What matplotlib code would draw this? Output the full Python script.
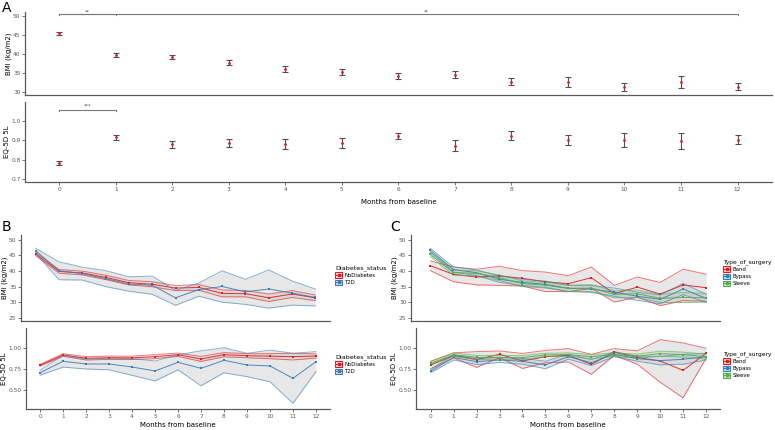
import numpy as np
import matplotlib
matplotlib.use("Agg")
import matplotlib.pyplot as plt
from matplotlib.lines import Line2D
from matplotlib.patches import Patch

# ---------------------------------------------------------------------------
# Datos
meses = np.arange(13)

# Panel A: media y error de toda la muestra
bmi_media = [45.45, 39.8, 39.2, 37.8, 36.1, 35.35, 34.2, 34.65, 32.75, 32.65, 31.35, 32.65, 31.5]
bmi_err = [0.35, 0.48, 0.56, 0.74, 0.7, 0.78, 0.78, 1.0, 0.87, 1.26, 1.13, 1.52, 0.96]
eq_media = [0.781, 0.915, 0.880, 0.887, 0.880, 0.887, 0.922, 0.873, 0.924, 0.903, 0.903, 0.897, 0.903]
eq_err = [0.010, 0.013, 0.017, 0.019, 0.026, 0.024, 0.016, 0.030, 0.024, 0.027, 0.036, 0.043, 0.023]

# Panel B: por estado de diabetes
diab_grupos = ["NoDiabetes", "T2D"]
bmi_nodiab = [45.45, 39.9, 39.4, 38.0, 36.3, 35.8, 34.6, 34.8, 32.9, 32.8, 31.5, 32.7, 31.5]
bmi_nodiab_ic = [0.5, 0.6, 0.6, 0.7, 0.7, 0.8, 0.8, 0.9, 1.1, 1.0, 1.2, 1.1, 0.9]
bmi_t2d = [46.5, 40.1, 39.2, 37.6, 35.9, 35.5, 31.5, 34.1, 35.1, 33.4, 34.3, 33.0, 31.6]
bmi_t2d_ic = [0.8, 2.85, 2.05, 2.55, 2.3, 2.9, 2.4, 2.1, 5.0, 4.0, 6.1, 3.85, 2.7]
eq_nodiab = [0.796, 0.920, 0.880, 0.887, 0.885, 0.900, 0.923, 0.872, 0.923, 0.911, 0.905, 0.900, 0.907]
eq_nodiab_ic = [0.01, 0.015, 0.02, 0.02, 0.02, 0.025, 0.02, 0.03, 0.025, 0.025, 0.03, 0.04, 0.025]
eq_t2d = [0.707, 0.844, 0.812, 0.812, 0.776, 0.728, 0.832, 0.760, 0.856, 0.800, 0.788, 0.640, 0.840]
eq_t2d_ic = [0.03, 0.07, 0.06, 0.07, 0.10, 0.12, 0.09, 0.21, 0.15, 0.14, 0.19, 0.30, 0.12]

# Panel C: por tipo de cirugia
cirugias = ["Band", "Bypass", "Sleeve"]
bmi_band = [41.7, 38.97, 38.1, 38.5, 37.7, 36.6, 36.0, 37.9, 32.8, 34.9, 32.7, 35.6, 34.7]
bmi_band_ic = [1.55, 2.35, 2.5, 3.05, 2.45, 3.1, 2.55, 3.4, 2.65, 3.2, 3.7, 5.0, 4.3]
bmi_bypass = [46.6, 40.5, 39.5, 37.4, 36.4, 35.8, 34.5, 34.3, 33.3, 32.0, 31.0, 34.3, 31.3]
bmi_bypass_ic = [0.6, 0.8, 0.9, 1.0, 1.0, 1.0, 1.0, 1.1, 1.3, 1.3, 1.4, 1.8, 1.3]
bmi_sleeve = [45.3, 39.5, 39.3, 37.9, 36.0, 35.5, 34.5, 34.6, 32.6, 32.8, 31.3, 31.6, 31.5]
bmi_sleeve_ic = [0.7, 0.8, 0.8, 0.9, 0.9, 0.9, 1.0, 1.1, 1.1, 1.2, 1.3, 1.6, 1.4]
eq_band = [0.80, 0.916, 0.865, 0.928, 0.848, 0.900, 0.916, 0.808, 0.956, 0.890, 0.848, 0.735, 0.940]
eq_band_ic = [0.045, 0.03, 0.095, 0.04, 0.09, 0.075, 0.08, 0.12, 0.04, 0.08, 0.255, 0.33, 0.06]
eq_bypass = [0.728, 0.890, 0.840, 0.860, 0.844, 0.800, 0.900, 0.828, 0.930, 0.876, 0.852, 0.868, 0.900]
eq_bypass_ic = [0.02, 0.03, 0.035, 0.03, 0.035, 0.045, 0.03, 0.035, 0.03, 0.03, 0.05, 0.06, 0.04]
eq_sleeve = [0.820, 0.924, 0.890, 0.888, 0.888, 0.920, 0.925, 0.900, 0.924, 0.905, 0.936, 0.924, 0.900]
eq_sleeve_ic = [0.02, 0.02, 0.025, 0.025, 0.025, 0.02, 0.02, 0.025, 0.02, 0.025, 0.03, 0.03, 0.03]

# ---------------------------------------------------------------------------
ROJO, AZUL, VERDE = "#E41A1C", "#377EB8", "#4DAF4A"
GRIS_EJE = "#5a5a5a"
W, H = 775, 430
FS_TICK = 4.2
FS_TIT = 5.0

fig = plt.figure(figsize=(W / 100, H / 100), dpi=100)


def ejes(l, t, r, b):
    """Crea unos ejes a partir de coordenadas en pixeles (origen arriba-izquierda)."""
    return fig.add_axes([l / W, 1 - b / H, (r - l) / W, (b - t) / H])


def estilo(ax, xlabels=True):
    for s in ["top", "right"]:
        ax.spines[s].set_visible(False)
    for s in ["left", "bottom"]:
        ax.spines[s].set_color(GRIS_EJE)
        ax.spines[s].set_linewidth(0.9)
    ax.tick_params(labelsize=FS_TICK, colors=GRIS_EJE, length=2, width=0.6, pad=1.2)
    ax.set_xticks(meses)
    if not xlabels:
        ax.tick_params(axis="x", bottom=False, labelbottom=False)


def serie(ax, media, ic, color):
    media = np.array(media)
    ic = np.array(ic)
    ax.fill_between(meses, media - ic, media + ic, color="#bdbdbd", alpha=0.35, lw=0)
    ax.plot(meses, media - ic, color=color, lw=0.7, alpha=0.6)
    ax.plot(meses, media + ic, color=color, lw=0.7, alpha=0.6)
    ax.plot(meses, media, color=color, lw=0.7, alpha=0.9)
    ax.plot(meses, media, "s", color=color, ms=1.6, mew=0)


def leyenda(ax, titulo, nombres, colores, x, y, fs_titulo=4.6):
    handles = [(Patch(facecolor="#e0e0e0", edgecolor=c, lw=0.8),
                Line2D([], [], color=c, lw=0.7, marker="s", ms=1.6))
               for c in colores]
    lg = ax.legend(handles, nombres, title=titulo, loc="upper left",
                   bbox_to_anchor=(x / W, 1 - y / H), bbox_transform=fig.transFigure,
                   frameon=False, fontsize=3.9, title_fontsize=fs_titulo,
                   handlelength=1.3, handleheight=1.2, handletextpad=0.4,
                   labelspacing=0.3, borderaxespad=0, borderpad=0)
    lg._legend_box.align = "left"


# ------------------------------- Panel A -----------------------------------
a1 = ejes(25, 12, 772, 95.3)
a1.errorbar(meses, bmi_media, yerr=bmi_err, fmt="none", ecolor="#505050",
            elinewidth=0.8, capsize=2.3, capthick=0.8)
a1.plot(meses, bmi_media, "o", color=ROJO, ms=2, mew=0)
a1.set_xlim(-0.607, 12.61)
a1.set_ylim(29.2, 51.1)
a1.set_yticks([30, 35, 40, 45, 50])
estilo(a1, xlabels=False)
a1.set_ylabel("BMI (kg/m2)", fontsize=FS_TIT, labelpad=1)
a1.plot([0, 0, 12, 12], [50.2, 50.45, 50.45, 50.2], color="#7a7a7a", lw=0.8, clip_on=False)
a1.plot([0, 0, 1, 1], [50.2, 50.45, 50.45, 50.2], color="#7a7a7a", lw=0.8, clip_on=False)
a1.text(0.5, 50.4, "**", ha="center", va="bottom", fontsize=3.5, color="#555555")
a1.text(6.5, 50.4, "**", ha="center", va="bottom", fontsize=3.5, color="#555555")

a2 = ejes(25, 101.7, 772, 182.3)
a2.errorbar(meses, eq_media, yerr=eq_err, fmt="none", ecolor="#505050",
            elinewidth=0.8, capsize=2.3, capthick=0.8)
a2.plot(meses, eq_media, "o", color=ROJO, ms=2, mew=0)
a2.set_xlim(-0.607, 12.61)
a2.set_ylim(0.683, 1.10)
a2.set_yticks([0.7, 0.8, 0.9, 1.0])
a2.set_yticklabels(["0.7", "0.8", "0.9", "1.0"])
estilo(a2)
a2.set_ylabel("EQ-5D 5L", fontsize=FS_TIT, labelpad=1)
a2.set_xlabel("Months from baseline", fontsize=FS_TIT, labelpad=5)
a2.plot([0, 0, 1, 1], [1.053, 1.057, 1.057, 1.053], color="#7a7a7a", lw=0.8, clip_on=False)
a2.text(0.5, 1.062, "***", ha="center", va="bottom", fontsize=3.5, color="#555555")

# ------------------------------- Panel B -----------------------------------
b1 = ejes(21, 235, 330, 320.7)
serie(b1, bmi_nodiab, bmi_nodiab_ic, ROJO)
serie(b1, bmi_t2d, bmi_t2d_ic, AZUL)
b1.set_xlim(-0.63, 12.63)
b1.set_ylim(24.2, 51.5)
b1.set_yticks([25, 30, 35, 40, 45, 50])
estilo(b1, xlabels=False)
b1.set_ylabel("BMI (kg/m2)", fontsize=FS_TIT, labelpad=1)
leyenda(b1, "Diabetes_status", diab_grupos, [ROJO, AZUL], 335, 265)

b2 = ejes(26, 328.3, 330, 409.3)
serie(b2, eq_nodiab, eq_nodiab_ic, ROJO)
serie(b2, eq_t2d, eq_t2d_ic, AZUL)
b2.set_xlim(-0.61, 12.61)
b2.set_ylim(0.268, 1.24)
b2.set_yticks([0.5, 0.75, 1.0])
b2.set_yticklabels(["0.50", "0.75", "1.00"])
estilo(b2)
b2.set_ylabel("EQ-5D 5L", fontsize=FS_TIT, labelpad=1)
b2.set_xlabel("Months from baseline", fontsize=FS_TIT, labelpad=2)
leyenda(b2, "Diabetes_status", diab_grupos, [ROJO, AZUL], 335, 354)

# ------------------------------- Panel C -----------------------------------
c1 = ejes(411, 235, 720, 320.7)
serie(c1, bmi_band, bmi_band_ic, ROJO)
serie(c1, bmi_bypass, bmi_bypass_ic, AZUL)
serie(c1, bmi_sleeve, bmi_sleeve_ic, VERDE)
c1.set_xlim(-0.846, 12.60)
c1.set_ylim(24.2, 51.5)
c1.set_yticks([25, 30, 35, 40, 45, 50])
estilo(c1, xlabels=False)
c1.set_ylabel("BMI (kg/m2)", fontsize=FS_TIT, labelpad=1)
leyenda(c1, "Type_of_surgery", cirugias, [ROJO, AZUL, VERDE], 723, 259, fs_titulo=4.3)

c2 = ejes(416, 328.3, 720, 409.3)
serie(c2, eq_band, eq_band_ic, ROJO)
serie(c2, eq_bypass, eq_bypass_ic, AZUL)
serie(c2, eq_sleeve, eq_sleeve_ic, VERDE)
c2.set_xlim(-0.64, 12.61)
c2.set_ylim(0.268, 1.24)
c2.set_yticks([0.5, 0.75, 1.0])
c2.set_yticklabels(["0.50", "0.75", "1.00"])
estilo(c2)
c2.set_ylabel("EQ-5D 5L", fontsize=FS_TIT, labelpad=1)
c2.set_xlabel("Months from baseline", fontsize=FS_TIT, labelpad=2)
leyenda(c2, "Type_of_surgery", cirugias, [ROJO, AZUL, VERDE], 723, 351, fs_titulo=4.3)

# Etiquetas de panel
fig.text(2 / W, 1 - 1 / H, "A", fontsize=10, va="top", ha="left")
fig.text(2 / W, 1 - 220 / H, "B", fontsize=10, va="top", ha="left")
fig.text(390 / W, 1 - 220 / H, "C", fontsize=10, va="top", ha="left")

fig.savefig("out.png", dpi=100)
